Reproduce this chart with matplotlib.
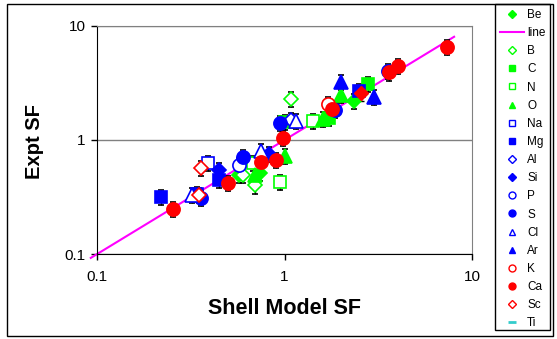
import matplotlib
matplotlib.use("Agg")
import matplotlib.pyplot as plt
from matplotlib.lines import Line2D
from matplotlib.patches import Rectangle

plt.rcParams['font.family'] = ['Liberation Sans', 'DejaVu Sans']

# --- data (shell model SF, expt SF) ---
be_x = [0.57, 0.74, 2.35]
be_y = [0.49, 0.51, 2.2]
line_x = [0.093, 8.0]
line_y = [0.093, 8.0]
b_x = [0.60, 0.70, 1.08]
b_y = [0.49, 0.40, 2.27]
c_x = [1.0, 1.72, 2.8]
c_y = [1.45, 1.55, 3.1]
n_x = [0.68, 0.95, 1.42]
n_y = [0.63, 0.43, 1.47]
o_x = [0.70, 1.0, 1.6, 2.0]
o_y = [0.49, 0.72, 1.52, 2.5]
na_x = [0.39]
na_y = [0.63]
mg_x = [0.22, 0.34, 0.45, 2.5]
mg_y = [0.315, 0.34, 0.45, 2.7]
al_x = [1.08]
al_y = [1.5]
si_x = [0.45, 0.83]
si_y = [0.55, 0.76]
p_x = [0.57]
p_y = [0.60]
s_x = [0.36, 0.60, 0.95, 1.85, 3.55]
s_y = [0.31, 0.71, 1.40, 1.82, 4.05]
cl_x = [0.32, 0.75, 1.15]
cl_y = [0.33, 0.80, 1.47]
ar_x = [2.0, 3.0]
ar_y = [3.2, 2.4]
k_x = [1.7]
k_y = [2.05]
ca_x = [0.255, 0.50, 0.75, 0.90, 0.98, 1.8, 3.6, 4.0, 7.3]
ca_y = [0.25, 0.42, 0.64, 0.67, 1.05, 1.87, 3.9, 4.45, 6.55]
sc_x = [0.35, 0.36]
sc_y = [0.33, 0.57]
sc_fill_x = [2.57]
sc_fill_y = [2.6]
ERR = 0.15  # relative error on expt SF

GREEN = '#00FF00'
BLUE = '#0000FF'
RED = '#FF0000'

W, H = 557, 339
fig = plt.figure(figsize=(W / 100, H / 100), dpi=100)
ax = fig.add_axes([96.7 / W, 1 - 254.3 / H, (472.3 - 96.7) / W, (254.3 - 25.7) / H])

series = [
    ('Be', be_x, be_y, 'D', GREEN, True),
    ('line', None, None, None, None, None),
    ('B', b_x, b_y, 'D', GREEN, False),
    ('C', c_x, c_y, 's', GREEN, True),
    ('N', n_x, n_y, 's', GREEN, False),
    ('O', o_x, o_y, '^', GREEN, True),
    ('Na', na_x, na_y, 's', BLUE, False),
    ('Mg', mg_x, mg_y, 's', BLUE, True),
    ('Al', al_x, al_y, 'D', BLUE, False),
    ('Si', si_x, si_y, 'D', BLUE, True),
    ('P', p_x, p_y, 'o', BLUE, False),
    ('S', s_x, s_y, 'o', BLUE, True),
    ('Cl', cl_x, cl_y, '^', BLUE, False),
    ('Ar', ar_x, ar_y, '^', BLUE, True),
    ('K', k_x, k_y, 'o', RED, False),
    ('Ca', ca_x, ca_y, 'o', RED, True),
    ('Sc', sc_x, sc_y, 'D', RED, False),
]

msize = {'o': 9.5, 's': 8.5, 'D': 7.5, '^': 9.5}
lsize = {'o': 5, 's': 4.5, 'D': 4, '^': 5}
handles = []
for name, xs, ys, mk, col, filled in series:
    if name == 'line':
        ax.plot(line_x, line_y, color='#FF00FF', lw=1.5, clip_on=False)
        handles.append(Line2D([], [], color='#FF00FF', lw=1.5))
        continue
    err = [v * ERR for v in ys]
    ax.errorbar(xs, ys, yerr=err, fmt=mk, ms=msize[mk], mfc=col if filled else 'white',
                mec=col, mew=1.2, ecolor='black', elinewidth=1, capsize=2.5, capthick=1)
    if name == 'Sc':
        err = [v * ERR for v in sc_fill_y]
        ax.errorbar(sc_fill_x, sc_fill_y, yerr=err, fmt='D', ms=msize['D'], mfc=RED, mec=RED,
                    ecolor='black', elinewidth=1, capsize=2.5, capthick=1)
    handles.append(Line2D([], [], ls='none', marker=mk, ms=lsize[mk], mec=col,
                          mfc=col if filled else 'white', mew=1))
handles.append(Line2D([], [], ls='none', marker='_', ms=6, mec='#33CCCC', mew=2))
labels = [s[0] for s in series] + ['Ti']

ax.set_xscale('log')
ax.set_yscale('log')
ax.set_xlim(0.1, 10)
ax.set_ylim(0.1, 10)
ax.set_xticks([0.1, 1, 10], ['0.1', '1', '10'])
ax.set_yticks([0.1, 1, 10], ['0.1', '1', '10'])
ax.minorticks_off()
ax.tick_params(direction='out', length=4.5, width=1, labelsize=11, colors='black')
ax.tick_params(axis='x', pad=7)
ax.yaxis.grid(True, color='#808080', lw=1)
ax.set_axisbelow(True)
for side in ['top', 'right']:
    ax.spines[side].set_color('#808080')
for side in ['left', 'bottom']:
    ax.spines[side].set_color('black')

fig.text(284 / W, 1 - 309 / H, 'Shell Model SF', ha='center', va='center',
         fontsize=15.5, fontweight='bold')
fig.text(35 / W, 1 - 142 / H, 'Expt SF', ha='center', va='center',
         fontsize=14.5, fontweight='bold', rotation=90)

fig.legend(handles, labels, loc='upper left', bbox_to_anchor=(500 / W, 1 - 9 / H),
           frameon=False, fontsize=8.5, handlelength=2.0, handletextpad=0.3,
           labelspacing=0.52, borderpad=0, borderaxespad=0)

fig.patches.append(Rectangle((495 / W, 1 - 330 / H), 55 / W, 326 / H, transform=fig.transFigure,
                             fill=False, ec='black', lw=1))
fig.patches.append(Rectangle((7 / W, 1 - 336 / H), 546 / W, 332 / H, transform=fig.transFigure,
                             fill=False, ec='black', lw=1))

fig.savefig('out.png', dpi=100)
